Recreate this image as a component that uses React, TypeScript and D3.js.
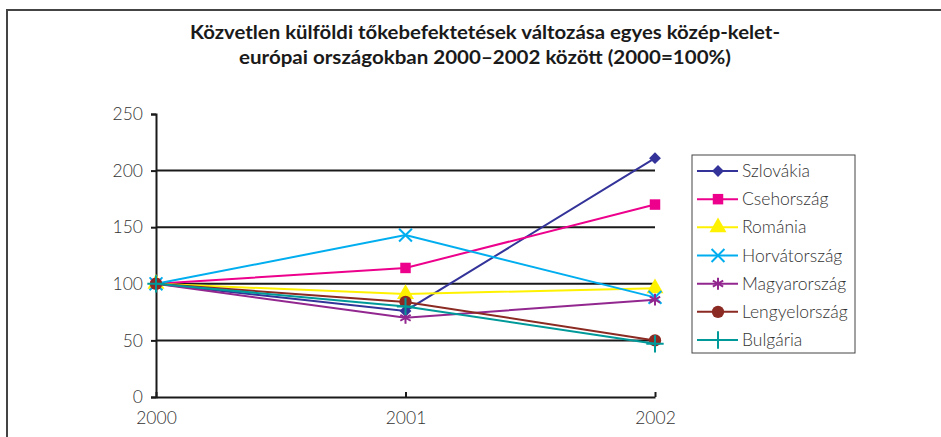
import React, { useEffect, useRef } from 'react';
import * as d3 from 'd3';

const years = ['2000', '2001', '2002'];
const yTicks = [0, 50, 100, 150, 200, 250];

const countries = ['Szlovákia', 'Csehország', 'Románia', 'Horvátország', 'Magyarország', 'Lengyelország', 'Bulgária'];
const szlovakia = [100, 76, 211];
const csehorszag = [100, 114, 170];
const romania = [100, 91, 96];
const horvatorszag = [100, 143, 88];
const magyarorszag = [100, 70, 86];
const lengyelorszag = [100, 84, 50];
const bulgaria = [100, 80, 47];

const seriesValues = [szlovakia, csehorszag, romania, horvatorszag, magyarorszag, lengyelorszag, bulgaria];
const colors = ['#333399', '#ec008c', '#fff200', '#00aeef', '#92278f', '#8b2a22', '#00999a'];
const symbols = [d3.symbolSquare, d3.symbolSquare, d3.symbolTriangle, d3.symbolTimes, d3.symbolAsterisk, d3.symbolCircle, d3.symbolPlus];
const symbolSizes = [70, 110, 125, 110, 100, 120, 100];
const rotations = [45, 0, 0, 0, 0, 0, 0];
const filled = [true, true, true, false, false, true, false];

const titleLines = [
  'Közvetlen külföldi tőkebefektetések változása egyes közép-kelet-',
  'európai országokban 2000–2002 között (2000=100%)'
];
const titleWidths = [590, 492];

const W = 941;
const H = 437;
const font = 'Lato, "Open Sans", sans-serif';

export default function App() {
  const ref = useRef<SVGSVGElement>(null);

  useEffect(() => {
    const svg = d3.select(ref.current);
    svg.selectAll('*').remove();

    // outer frame
    svg.append('path')
      .attr('d', `M7,${H} V10 H${W}`)
      .attr('fill', 'none')
      .attr('stroke', '#444')
      .attr('stroke-width', 2);

    titleLines.forEach((t, i) => {
      svg.append('text')
        .attr('x', 485 - titleWidths[i] / 2)
        .attr('y', 39 + i * 25)
        .attr('font-family', font)
        .attr('font-weight', 700)
        .attr('font-size', 19)
        .attr('fill', '#1a1a1a')
        .attr('textLength', titleWidths[i])
        .attr('lengthAdjust', 'spacingAndGlyphs')
        .text(t);
    });

    const x = d3.scalePoint().domain(years).range([156, 655]);
    const y = d3.scaleLinear().domain([0, 250]).range([397, 114]);

    // gridlines
    svg.append('g')
      .selectAll('line')
      .data(yTicks.filter((d) => d > 0 && d < 250))
      .enter()
      .append('line')
      .attr('x1', 156)
      .attr('x2', 655)
      .attr('y1', (d) => y(d))
      .attr('y2', (d) => y(d))
      .attr('stroke', '#1a1a1a')
      .attr('stroke-width', 2);

    const yAxis = svg.append('g')
      .attr('transform', 'translate(156,0)')
      .call(d3.axisLeft(y).tickValues(yTicks).tickSize(5).tickPadding(8));
    yAxis.select('.domain').attr('stroke', '#1a1a1a').attr('stroke-width', 2);
    yAxis.selectAll('line').attr('stroke', '#1a1a1a').attr('stroke-width', 2);
    yAxis.selectAll('text')
      .attr('font-family', font)
      .attr('font-weight', 300)
      .attr('font-size', 17.5)
      .attr('fill', '#333');

    const xAxis = svg.append('g')
      .attr('transform', 'translate(0,397)')
      .call(d3.axisBottom(x).tickSizeInner(-5).tickSizeOuter(0).tickPadding(15));
    xAxis.select('.domain').attr('stroke', '#1a1a1a').attr('stroke-width', 2);
    xAxis.selectAll('line').attr('stroke', '#1a1a1a').attr('stroke-width', 2);
    xAxis.selectAll('text')
      .attr('font-family', font)
      .attr('font-weight', 300)
      .attr('font-size', 17.5)
      .attr('fill', '#333');

    const line = d3.line<number>()
      .x((d, i) => x(years[i]) as number)
      .y((d) => y(d));

    seriesValues.forEach((vals, s) => {
      const g = svg.append('g');
      g.append('path')
        .attr('d', line(vals))
        .attr('fill', 'none')
        .attr('stroke', colors[s])
        .attr('stroke-width', 2);
      g.selectAll('path.m')
        .data(vals)
        .enter()
        .append('path')
        .attr('class', 'm')
        .attr('transform', (d, i) => `translate(${x(years[i])},${y(d)}) rotate(${rotations[s]})`)
        .attr('d', d3.symbol().type(symbols[s]).size(symbolSizes[s])())
        .attr('fill', filled[s] ? colors[s] : 'none')
        .attr('stroke', colors[s])
        .attr('stroke-width', filled[s] ? 0 : 2);
    });

    // legend
    const lg = svg.append('g');
    lg.append('rect')
      .attr('x', 692)
      .attr('y', 155)
      .attr('width', 163)
      .attr('height', 198)
      .attr('fill', '#fff')
      .attr('stroke', '#444')
      .attr('stroke-width', 1);
    const ly = d3.scalePoint().domain(countries).range([171, 340]);
    countries.forEach((c, s) => {
      const cy = ly(c) as number;
      lg.append('line')
        .attr('x1', 697)
        .attr('x2', 738)
        .attr('y1', cy)
        .attr('y2', cy)
        .attr('stroke', colors[s])
        .attr('stroke-width', 2);
      lg.append('path')
        .attr('transform', `translate(718,${cy}) rotate(${rotations[s]})`)
        .attr('d', d3.symbol().type(symbols[s]).size(symbolSizes[s])())
        .attr('fill', filled[s] ? colors[s] : 'none')
        .attr('stroke', colors[s])
        .attr('stroke-width', filled[s] ? 0 : 2);
      lg.append('text')
        .attr('x', 742)
        .attr('y', cy + 6)
        .attr('font-family', font)
        .attr('font-weight', 300)
        .attr('font-size', 17.5)
        .attr('fill', '#333')
        .text(c);
    });
  }, []);

  return (
    <div style={{ position: 'fixed', left: 0, top: 0, background: '#fff' }}>
      <svg ref={ref} width={W} height={H} />
    </div>
  );
}
